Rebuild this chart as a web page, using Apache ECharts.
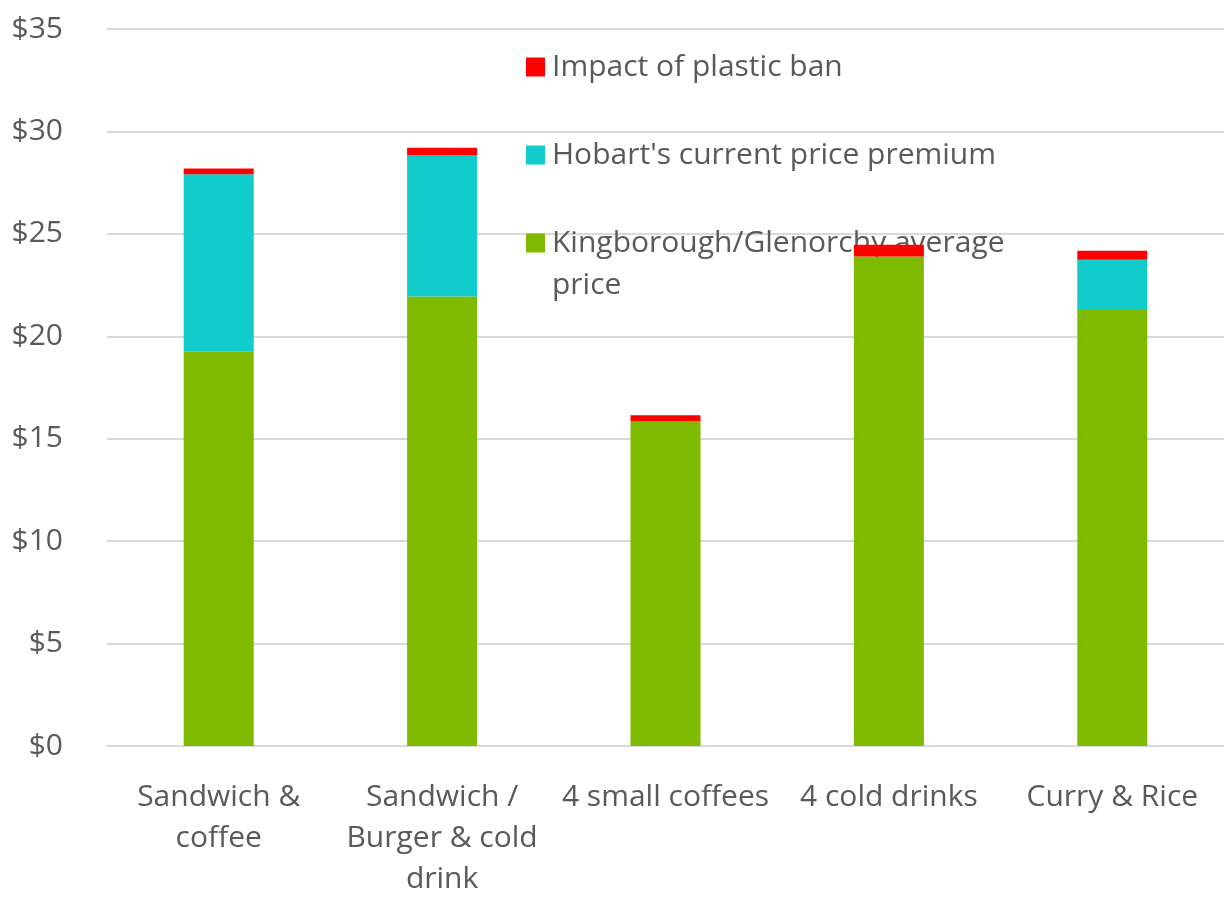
<!DOCTYPE html>
<html>
<head>
<meta charset="utf-8">
<script src="https://cdn.jsdelivr.net/npm/echarts@6/dist/echarts.min.js"></script>
<style>html,body{margin:0;padding:0;background:#fff}#c{width:1224px;height:900px}</style>
</head>
<body>
<div id="c"></div>
<script>
var categories = ['Sandwich &\ncoffee', 'Sandwich /\nBurger & cold\ndrink', '4 small coffees', '4 cold drinks', 'Curry & Rice'];
var kingboroughAvg = [19.27, 21.94, 15.87, 23.90, 21.33];
var hobartPremium = [8.64, 6.89, 0, 0, 2.40];
var plasticBan = [0.28, 0.37, 0.27, 0.57, 0.44];
var seriesNames = ['Kingborough/Glenorchy average price', "Hobart's current price premium", 'Impact of plastic ban'];

var FONT = 'Open Sans';
var TXT = '#595959';
var FS = 30;
var chart = echarts.init(document.getElementById('c'));
chart.setOption({
  animation: false,
  backgroundColor: '#fff',
  grid: {left: 107, right: -4, top: 29, bottom: 152},
  legend: {
    orient: 'vertical',
    left: 521,
    top: 47,
    z: 1,
    itemWidth: 19,
    itemHeight: 19,
    itemGap: 58,
    icon: 'rect',
    data: [seriesNames[2], seriesNames[1], seriesNames[0]],
    formatter: function (n) { return n === seriesNames[0] ? 'Kingborough/Glenorchy average' : n; },
    textStyle: {fontFamily: FONT, fontSize: FS, color: TXT, lineHeight: 30, padding: [0, 0, 0, 2]}
  },
  graphic: [{
    type: 'text', left: 552, top: 270, z: 1,
    style: {text: 'price', fontFamily: FONT, fontSize: FS, fill: TXT, lineHeight: 30}
  }],
  xAxis: {
    type: 'category',
    data: categories,
    axisLine: {lineStyle: {color: '#d9d9d9', width: 2}},
    axisTick: {show: false},
    axisLabel: {fontFamily: FONT, fontSize: FS, color: TXT, lineHeight: 41, margin: 31, interval: 0}
  },
  yAxis: {
    type: 'value', min: 0, max: 35, interval: 5,
    axisLine: {show: false}, axisTick: {show: false},
    splitLine: {lineStyle: {color: '#d9d9d9', width: 2}},
    axisLabel: {fontFamily: FONT, fontSize: FS, color: TXT, margin: 44, formatter: function (v) { return '$' + v; }}
  },
  series: [
    {name: seriesNames[0], type: 'bar', stack: 's', barWidth: 70, z: 3, data: kingboroughAvg, itemStyle: {color: '#7fba00'}},
    {name: seriesNames[1], type: 'bar', stack: 's', barWidth: 70, z: 3, data: hobartPremium, itemStyle: {color: '#12cccc'}},
    {name: seriesNames[2], type: 'bar', stack: 's', barWidth: 70, z: 3, data: plasticBan, itemStyle: {color: '#ff0000'}}
  ]
});
</script>
</body>
</html>
